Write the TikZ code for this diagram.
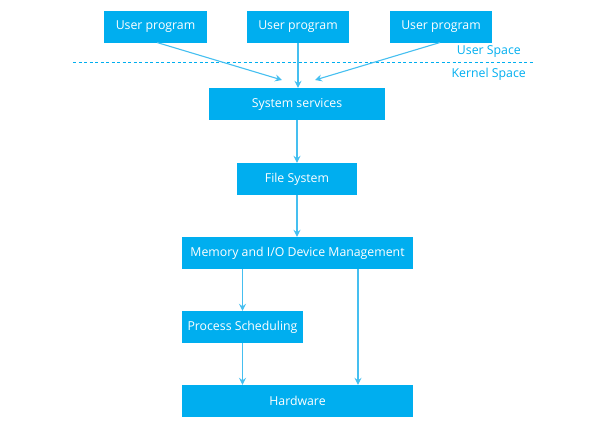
\documentclass[tikz,border=0pt]{standalone}
\usepackage{fontspec}
\setmainfont{Open Sans}
\usetikzlibrary{arrows.meta}
\definecolor{boxblue}{HTML}{00AEEF}
\definecolor{arrblue}{HTML}{45BFF0}
\tikzset{
  blk/.style={fill=boxblue, text=white, inner sep=0pt, font=\fontsize{12.3}{14}\selectfont},
  conn/.style={draw=arrblue, line width=1.1pt, -{Stealth[length=7pt,width=7pt,inset=2.5pt]}},
  lbl/.style={text=boxblue, inner sep=0pt, font=\fontsize{12.3}{14}\selectfont}
}
\begin{document}
\begin{tikzpicture}[x=1pt,y=-1pt]
\useasboundingbox (0,0) rectangle (596,429);
% boxes (pixel coords)
\node[blk, minimum width=103pt, minimum height=32pt] (u1) at (155.5,26.5) {User program};
\node[blk, minimum width=102pt, minimum height=32pt] (u2) at (298,26.5) {User program};
\node[blk, minimum width=102pt, minimum height=32pt] (u3) at (441,26.5) {User program};
\node[blk, minimum width=176pt, minimum height=32pt] (ss) at (297,104) {System services};
\node[blk, minimum width=120pt, minimum height=32pt] (fs) at (297,179) {File System};
\node[blk, minimum width=231pt, minimum height=32pt] (mm) at (297.5,253) {Memory and I/O Device Management};
\node[blk, minimum width=121pt, minimum height=32pt] (ps) at (242.5,327) {Process Scheduling};
\node[blk, minimum width=231pt, minimum height=32pt] (hw) at (297.5,401) {Hardware};
% separator
\coordinate (dl) at (73,62);
\coordinate (dr) at (533,62);
\draw[draw=boxblue, line width=1pt, dash pattern=on 3pt off 2.5pt] (dl) -- (dr);
\node[lbl, anchor=east] (us) at (521,52) {User Space};
\node[lbl, anchor=east] (ks) at (526,74) {Kernel Space};
% arrow targets
\coordinate (t1) at (282,80);
\coordinate (t3) at (315,80);
\draw[conn] (157,42.5) -- (t1);
\draw[conn] (u2.south) -- (ss.north -| u2.south);
\draw[conn] (440,42.5) -- (t3);
\draw[conn] (ss.south -| fs.north) -- (fs.north);
\draw[conn] (fs.south) -- (fs.south |- mm.north);
\draw[conn] (mm.south -| ps.north) -- (ps.north);
\draw[conn] (ps.south) -- (ps.south |- hw.north);
\draw[conn] (mm.south -| 358,0) -- (hw.north -| 358,0);
\end{tikzpicture}
\end{document}
